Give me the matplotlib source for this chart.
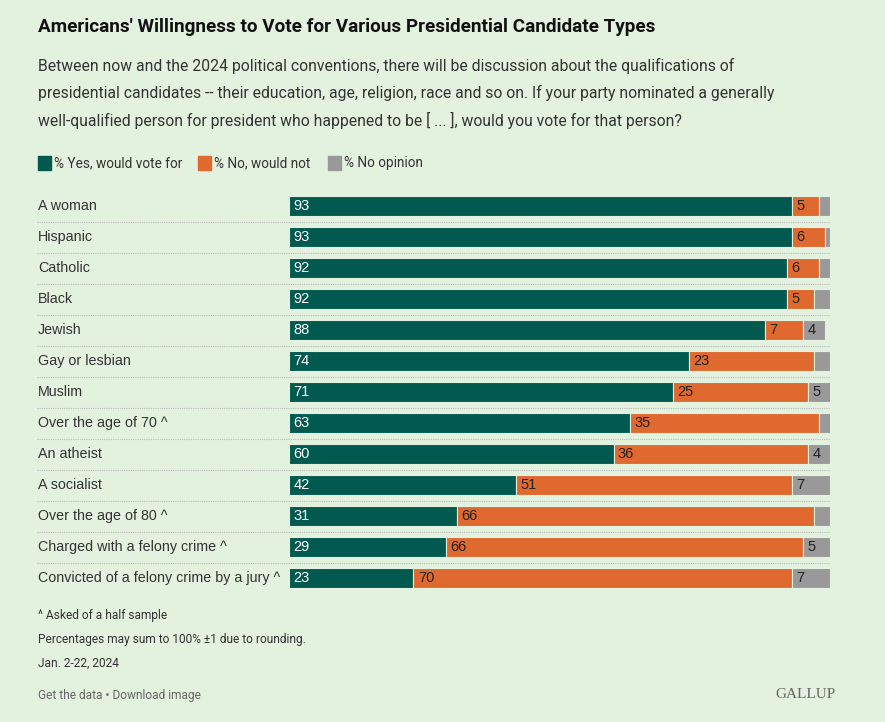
import matplotlib.pyplot as plt
import matplotlib.transforms as mtransforms
import numpy as np

plt.rcParams['font.family'] = ['Liberation Sans', 'DejaVu Sans']

# ── data ────────────────────────────────────────────────────────────────
categories = [
    'A woman', 'Hispanic', 'Catholic', 'Black', 'Jewish', 'Gay or lesbian',
    'Muslim', 'Over the age of 70 ^', 'An atheist', 'A socialist',
    'Over the age of 80 ^', 'Charged with a felony crime ^',
    'Convicted of a felony crime by a jury ^',
]
yes_vals = [93, 93, 92, 92, 88, 74, 71, 63, 60, 42, 31, 29, 23]
no_vals = [5, 6, 6, 5, 7, 23, 25, 35, 36, 51, 66, 66, 70]
noop_vals = [2, 1, 2, 3, 4, 3, 5, 3, 4, 7, 3, 5, 7]
series_names = ['% Yes, would vote for', '% No, would not', '% No opinion']

BG = '#e3f1df'
GREEN = '#01594f'
ORANGE = '#e0692f'
GREY = '#999999'

W, H = 885, 722
fig = plt.figure(figsize=(W / 100, H / 100), dpi=100, facecolor=BG)

def fx(px):
    return px / W

def fy(py):
    return 1 - py / H

# ── header ──────────────────────────────────────────────────────────────
fig.text(fx(38), fy(27), "Americans' Willingness to Vote for Various Presidential Candidate Types",
         fontsize=13.6, fontweight='bold', color='#111111', va='center',
         family=['Roboto', 'DejaVu Sans'])
sub = ["Between now and the 2024 political conventions, there will be discussion about the qualifications of",
       "presidential candidates -- their education, age, religion, race and so on. If your party nominated a generally",
       "well-qualified person for president who happened to be [ ... ], would you vote for that person?"]
for i, line in enumerate(sub):
    fig.text(fx(38), fy(66 + i * 27), line, fontsize=11.3, color='#333333', va='center',
             family=['Roboto', 'DejaVu Sans'])

# legend
leg_x = [38, 198, 328]
for x0, name, c in zip(leg_x, series_names, [GREEN, ORANGE, GREY]):
    fig.patches.append(plt.Rectangle((fx(x0), fy(170)), fx(13), 14 / H, color=c,
                                     transform=fig.transFigure, figure=fig))
    fig.text(fx(x0 + 16), fy(163), name, fontsize=9.8, color='#333333', va='center',
             family=['Roboto', 'DejaVu Sans'])

# ── bars ────────────────────────────────────────────────────────────────
ax = fig.add_axes([fx(289), fy(593.5), fx(541), 403 / H])
ax.set_facecolor('none')
y = np.arange(len(categories))
yes = np.array(yes_vals)
no = np.array(no_vals)
noop = np.array(noop_vals)
bh = 0.645
ax.barh(y, yes, height=bh, color=GREEN, edgecolor=BG, linewidth=0.8)
ax.barh(y, no, left=yes, height=bh, color=ORANGE, edgecolor=BG, linewidth=0.8)
ax.barh(y, noop, left=yes + no, height=bh, color=GREY, edgecolor=BG, linewidth=0.8)

ax.set_xlim(0, 100)
ax.set_ylim(len(categories) - 0.5, -0.5)
ax.axis('off')

for i in y:
    ax.text(0.8, i, str(yes[i]), color='white', fontsize=10.5, va='center', ha='left')
    ax.text(yes[i] + 0.8, i, str(no[i]), color='#222222', fontsize=10.5, va='center', ha='left')
    if noop[i] >= 4:
        ax.text(yes[i] + no[i] + 0.8, i, str(noop[i]), color='#222222', fontsize=10.5,
                va='center', ha='left')

# category labels and dotted separators
trans = mtransforms.blended_transform_factory(fig.transFigure, ax.transData)
for i, cat in enumerate(categories):
    fig.text(fx(38), i, cat, transform=trans, fontsize=10.3, color='#333333', va='center')
for i in range(len(categories) - 1):
    ax.plot([fx(37), fx(830)], [i + 0.5, i + 0.5], transform=trans, color='#bbbbbb',
            linestyle=(0, (1, 1)), linewidth=0.8, clip_on=False)

# ── footer ──────────────────────────────────────────────────────────────
foot = ['^ Asked of a half sample', 'Percentages may sum to 100% \u00b11 due to rounding.',
        'Jan. 2-22, 2024']
for i, line in enumerate(foot):
    fig.text(fx(38), fy(615 + i * 24), line, fontsize=8.6, color='#333333', va='center',
             family=['Roboto', 'DejaVu Sans'])
fig.text(fx(38), fy(696), 'Get the data \u2022 Download image', fontsize=8.6, color='#666666',
         va='center', family=['Roboto', 'DejaVu Sans'])
fig.text(fx(836), fy(695), 'GALLUP', fontsize=11, color='#666666', va='center', ha='right',
         family=['Liberation Serif', 'DejaVu Serif'])

fig.savefig('out.png', dpi=100, facecolor=BG)
